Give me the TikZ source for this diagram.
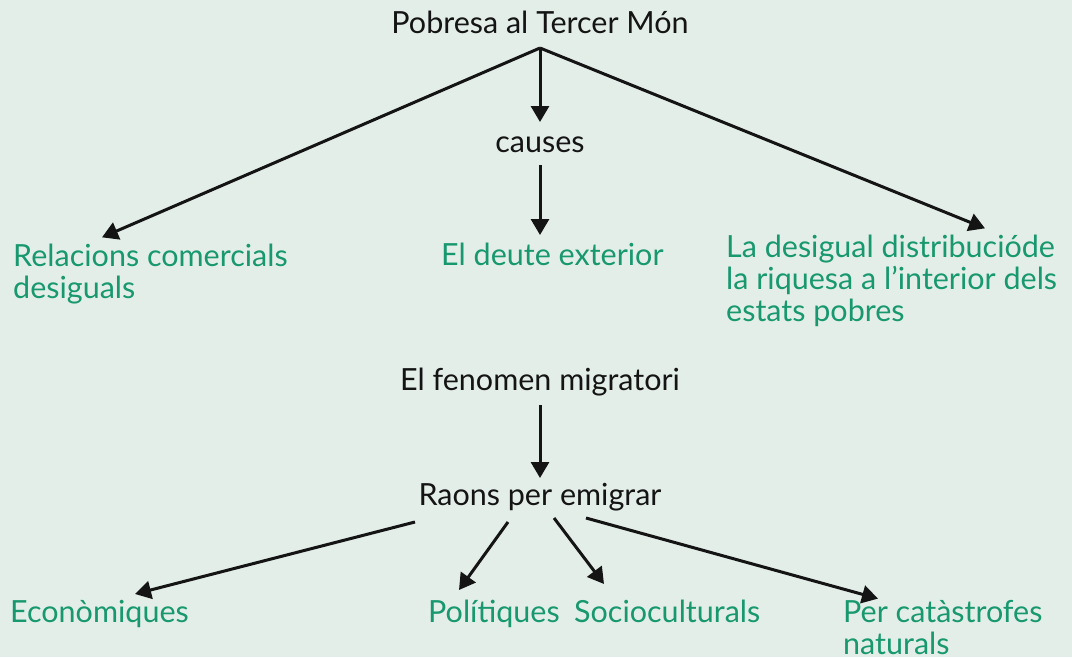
\documentclass[tikz,border=0pt]{standalone}
\usepackage{fontspec}
\setmainfont{Lato}
\usetikzlibrary{arrows.meta}
\definecolor{paper}{RGB}{227,238,232}
\definecolor{leafgreen}{RGB}{24,152,110}
\definecolor{inkblack}{RGB}{20,20,20}

\begin{document}
\begin{tikzpicture}[x=1pt, y=-1pt,
  every node/.style={inner sep=0pt, font=\fontsize{30.5}{32}\selectfont},
  head/.style={text=inkblack, anchor=base},
  item/.style={text=leafgreen, align=left, anchor=base west},
  link/.style={-{Triangle[length=16pt,width=18pt]}, line width=3pt, draw=inkblack}]

% Background
\fill[paper] (0,0) rectangle (1072,657);
\useasboundingbox (0,0) rectangle (1072,657);

% Pobresa al Tercer Mon
\node[head] (pob) at (540,33) {Pobresa al Tercer Món};
\coordinate (fork) at ([yshift=-15]pob.base);
\node[head] (causes) at (540,152) {causes};

\node[item] (relac) at (13,298) {Relacions comercials\\desiguals};
\node[item] (deute) at (441,265) {El deute exterior};
\node[item] (desig) at (726,321) {La desigual distribucióde\\la riquesa a l’interior dels\\estats pobres};

\draw[link] (fork) -- ([xshift=89,yshift=6]relac.north west);
\draw[link] (fork) -- ([yshift=30]causes.base);
\draw[link] (fork) -- ([xshift=259,yshift=6]desig.north west);
\draw[link] ([yshift=-13]causes.base) -- ([xshift=99,yshift=30]deute.base west);

% El fenomen migratori
\node[head] (migr) at (540,390) {El fenomen migratori};
\node[head] (raons) at (540,505) {Raons per emigrar};

\node[item] (econ) at (10,622) {Econòmiques};
\node[item] (polit) at (428,622) {Polítiques};
\node[item] (socio) at (574,622) {Socioculturals};
\node[item] (percat) at (843,654) {Per catàstrofes\\naturals};

\draw[link] ([yshift=-15]migr.base) -- ([yshift=27]raons.base);
\draw[link] ([xshift=-125,yshift=-17]raons.base) -- ([xshift=125,yshift=28]econ.base west);
\draw[link] ([xshift=-32,yshift=-17]raons.base) -- ([xshift=31,yshift=32]polit.base west);
\draw[link] ([xshift=14,yshift=-13]raons.base) -- ([xshift=30,yshift=38]socio.base west);
\draw[link] ([xshift=46,yshift=-13]raons.base) -- ([xshift=35,yshift=1]percat.north west);

\end{tikzpicture}
\end{document}
